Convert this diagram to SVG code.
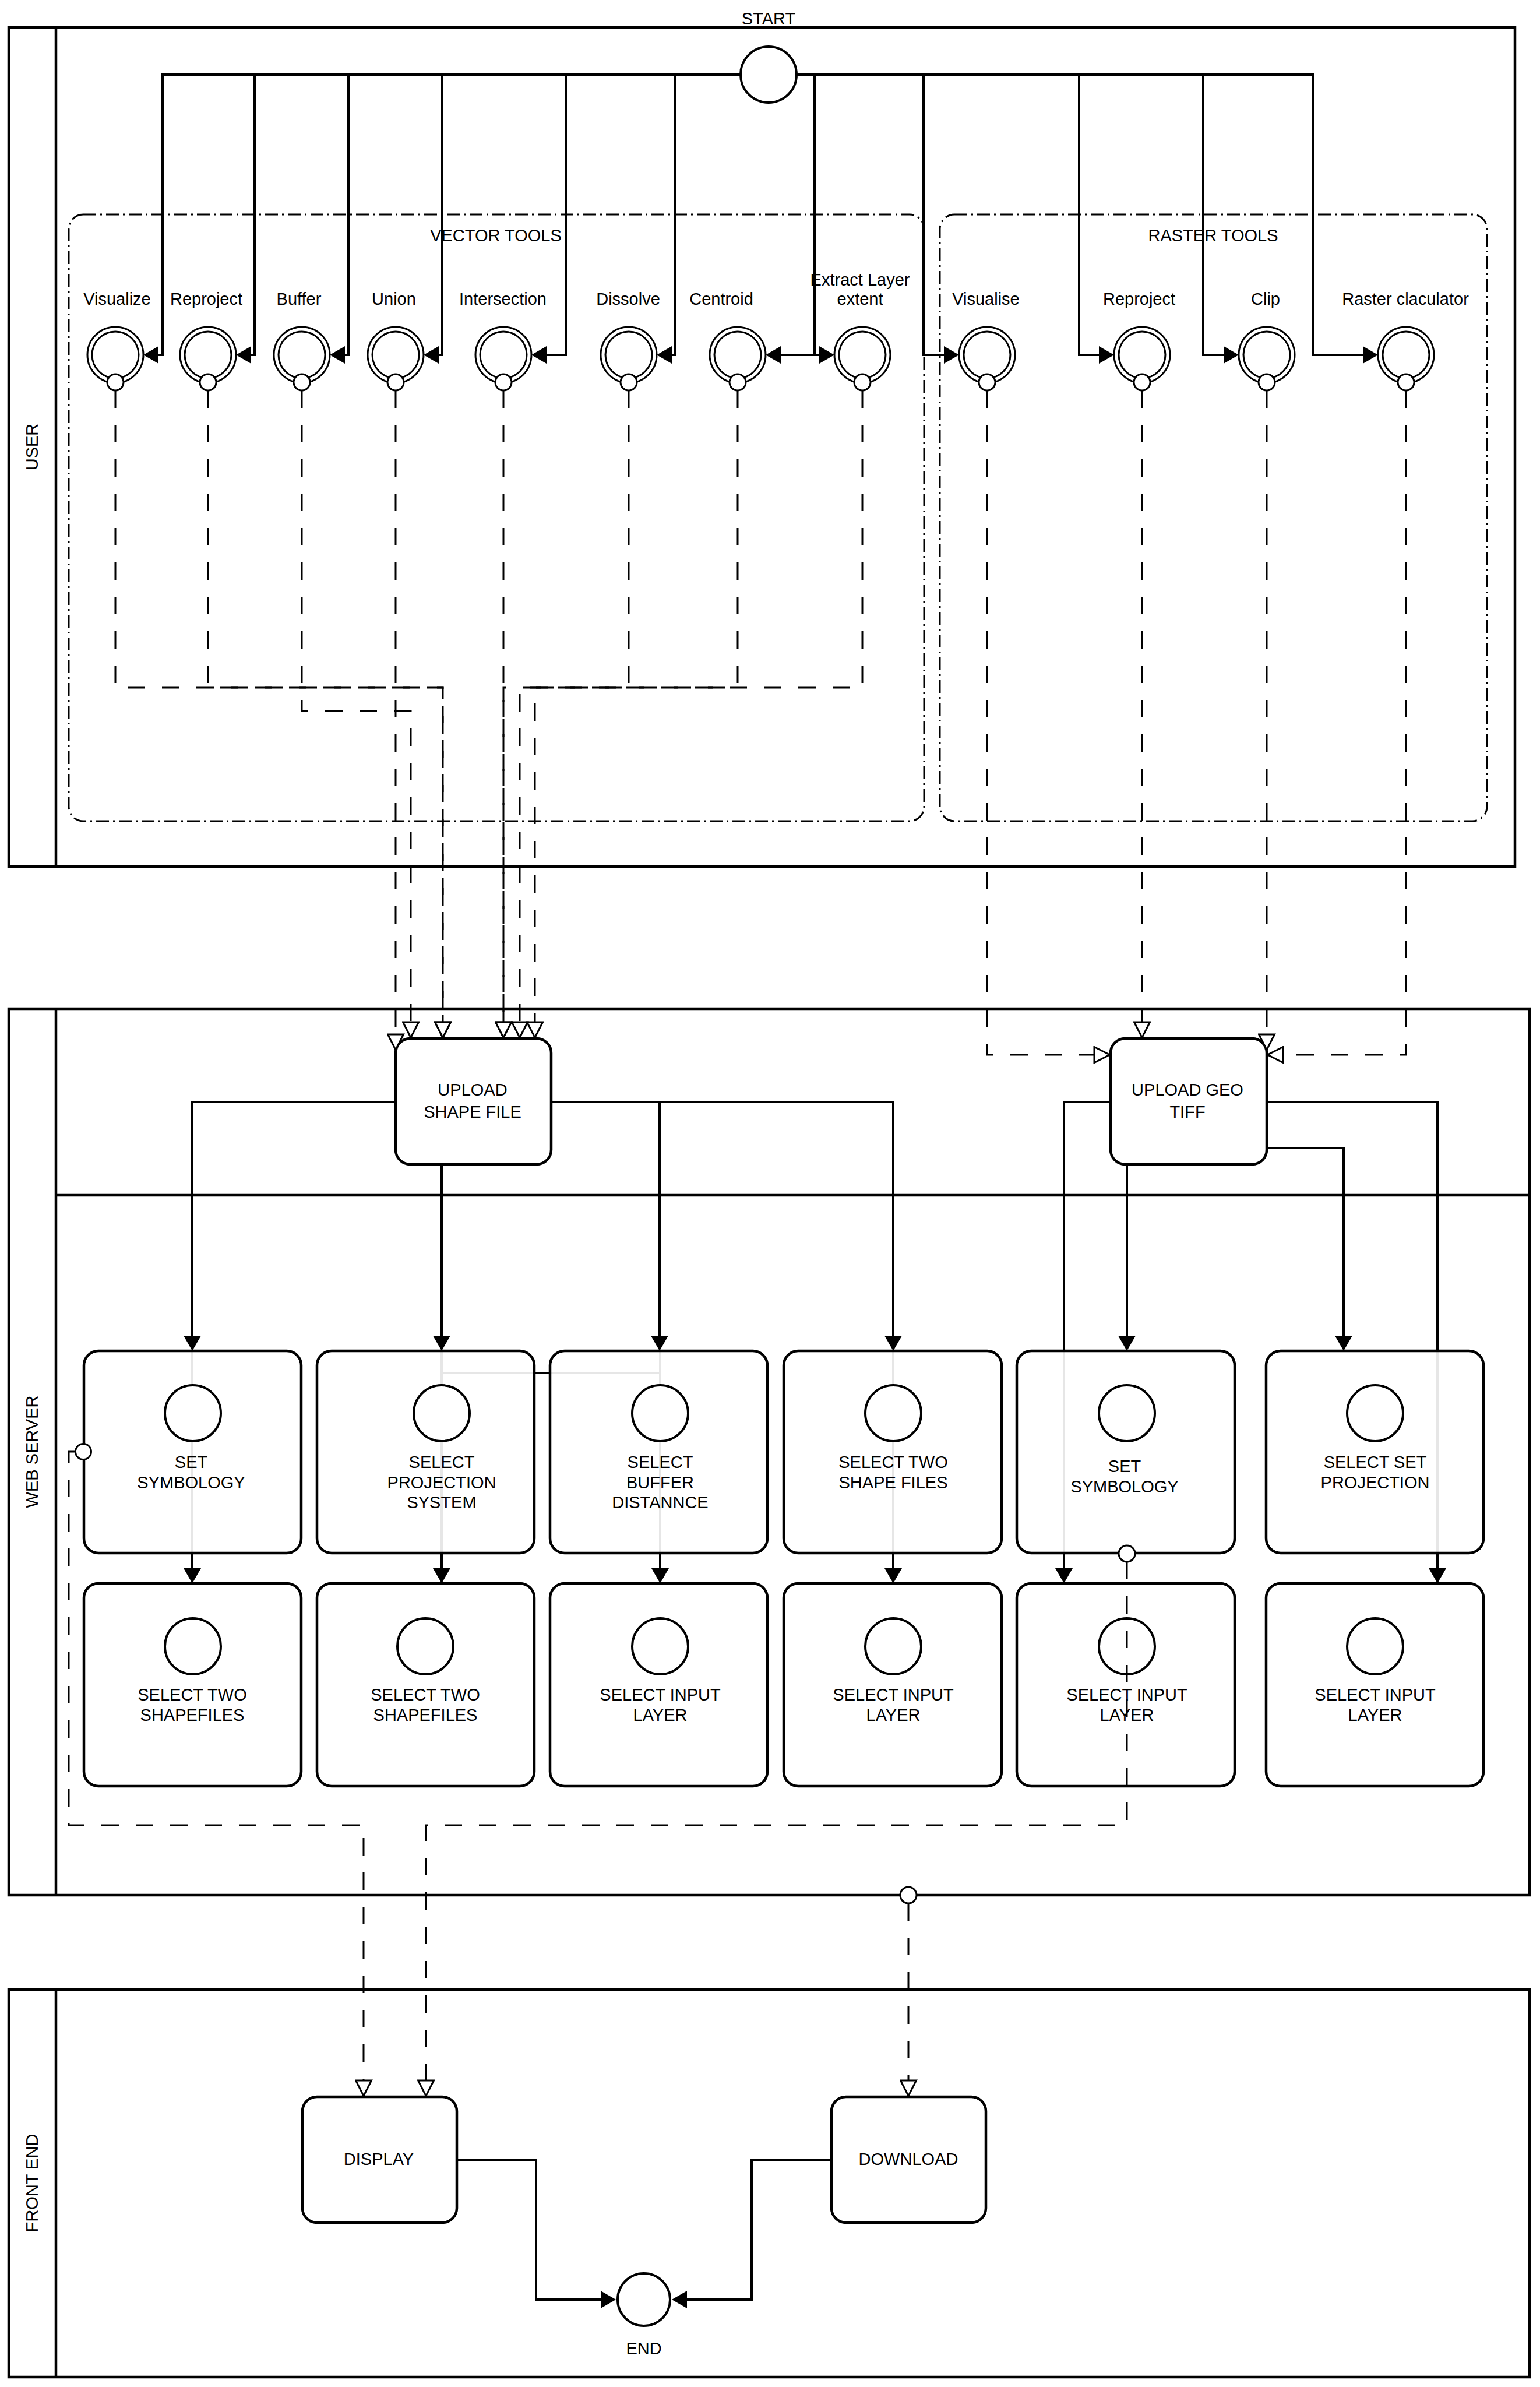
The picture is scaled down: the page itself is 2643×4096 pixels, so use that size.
<svg xmlns="http://www.w3.org/2000/svg" width="2643" height="4096" viewBox="0 0 2643 4096">
<style>
  .pool { fill: none; stroke: #000; stroke-width: 4.5; }
  .lbl { font-family: "Liberation Sans", Arial, sans-serif; font-size: 29px; fill: #000; text-anchor: middle; }
  .grp { fill: none; stroke: #000; stroke-width: 3; stroke-dasharray: 22 7 3 7; }
  .seq { fill: none; stroke: #000; stroke-width: 4; marker-end: url(#arrFill); }
  .line { fill: none; stroke: #000; stroke-width: 4; }
  .msg { fill: none; stroke: #000; stroke-width: 3; stroke-dasharray: 30 29; marker-end: url(#arrOpen); }
  .msgsrc { fill: #fff; stroke: #000; stroke-width: 3; }
  .task { fill: #fff; fill-opacity: 0.9; stroke: #000; stroke-width: 4.5; }
  .evt { fill: #fff; stroke: #000; stroke-width: 4; }
  .ring { fill: #fff; stroke: #000; stroke-width: 3; }
  .ringin { fill: none; stroke: #000; stroke-width: 3; }
</style>
<defs>
  <marker id="arrFill" markerUnits="userSpaceOnUse" markerWidth="26" markerHeight="30" viewBox="0 0 26 30" refX="0" refY="15" orient="auto">
    <path d="M0,0 L26,15 L0,30 z" fill="#000"/>
  </marker>
  <marker id="arrOpen" markerUnits="userSpaceOnUse" markerWidth="32" markerHeight="31" viewBox="-2 -2 32 31" refX="0" refY="13.5" orient="auto">
    <path d="M0,0 L26.5,13.5 L0,27 z" fill="#fff" stroke="#000" stroke-width="3" stroke-dasharray="none"/>
  </marker>
</defs>

<rect width="2643" height="4096" fill="#fff"/>

<!-- Pools and lanes -->
<g id="pool-user">
  <rect class="pool" x="15" y="47" width="2585" height="1440"/>
  <line class="pool" x1="96" y1="47" x2="96" y2="1487"/>
  <text class="lbl" transform="translate(55,767) rotate(-90)" dy="10">USER</text>
</g>
<g id="pool-webserver">
  <rect class="pool" x="15" y="1731" width="2610" height="1521"/>
  <line class="pool" x1="96" y1="1731" x2="96" y2="3252"/>
  <line class="pool" x1="96" y1="2051" x2="2625" y2="2051"/>
  <text class="lbl" transform="translate(55,2491) rotate(-90)" dy="10">WEB SERVER</text>
</g>
<g id="pool-frontend">
  <rect class="pool" x="15" y="3414" width="2610" height="665"/>
  <line class="pool" x1="96" y1="3414" x2="96" y2="4079"/>
  <text class="lbl" transform="translate(55,3746) rotate(-90)" dy="10">FRONT END</text>
</g>

<!-- Tool groups -->
<g id="group-vector">
  <rect class="grp" x="118" y="368" width="1468" height="1041" rx="25"/>
  <text class="lbl" x="851" y="414">VECTOR TOOLS</text>
</g>
<g id="group-raster">
  <rect class="grp" x="1613" y="368" width="939" height="1041" rx="25"/>
  <text class="lbl" x="2082" y="414">RASTER TOOLS</text>
</g>

<!-- Sequence flows from the start event -->
<g id="start-flows">
  <path class="seq" d="M1271,128 H279 V609 H272"/>
  <path class="seq" d="M1271,128 H437 V609 H431"/>
  <path class="seq" d="M1271,128 H598 V609 H592"/>
  <path class="seq" d="M1271,128 H759 V609 H753"/>
  <path class="seq" d="M1271,128 H971 V609 H938"/>
  <path class="seq" d="M1271,128 H1159 V609 H1153"/>
  <path class="seq" d="M1367,128 H1398 V609 H1340"/>
  <path class="seq" d="M1367,128 H1398 V609 H1406"/>
  <path class="seq" d="M1367,128 H1585 V609 H1620"/>
  <path class="seq" d="M1367,128 H1852 V609 H1886"/>
  <path class="seq" d="M1367,128 H2065 V609 H2100"/>
  <path class="seq" d="M1367,128 H2253 V609 H2339"/>
</g>

<!-- Start event -->
<g id="start">
  <circle class="evt" cx="1319" cy="128" r="48" stroke-width="4.5"/>
  <text class="lbl" x="1319" y="42">START</text>
</g>

<!-- Vector tool events -->
<g id="tool-visualize">
  <circle class="ring" cx="198" cy="609" r="48"/><circle class="ringin" cx="198" cy="609" r="40"/>
  <text class="lbl" x="201" y="523">Visualize</text>
</g>
<g id="tool-reproject">
  <circle class="ring" cx="357" cy="609" r="48"/><circle class="ringin" cx="357" cy="609" r="40"/>
  <text class="lbl" x="354" y="523">Reproject</text>
</g>
<g id="tool-buffer">
  <circle class="ring" cx="518" cy="609" r="48"/><circle class="ringin" cx="518" cy="609" r="40"/>
  <text class="lbl" x="513" y="523">Buffer</text>
</g>
<g id="tool-union">
  <circle class="ring" cx="679" cy="609" r="48"/><circle class="ringin" cx="679" cy="609" r="40"/>
  <text class="lbl" x="676" y="523">Union</text>
</g>
<g id="tool-intersection">
  <circle class="ring" cx="864" cy="609" r="48"/><circle class="ringin" cx="864" cy="609" r="40"/>
  <text class="lbl" x="863" y="523">Intersection</text>
</g>
<g id="tool-dissolve">
  <circle class="ring" cx="1079" cy="609" r="48"/><circle class="ringin" cx="1079" cy="609" r="40"/>
  <text class="lbl" x="1078" y="523">Dissolve</text>
</g>
<g id="tool-centroid">
  <circle class="ring" cx="1266" cy="609" r="48"/><circle class="ringin" cx="1266" cy="609" r="40"/>
  <text class="lbl" x="1238" y="523">Centroid</text>
</g>
<g id="tool-extract">
  <circle class="ring" cx="1480" cy="609" r="48"/><circle class="ringin" cx="1480" cy="609" r="40"/>
  <text class="lbl" x="1476" y="490">Extract Layer</text>
  <text class="lbl" x="1476" y="523">extent</text>
</g>

<!-- Raster tool events -->
<g id="tool-visualise">
  <circle class="ring" cx="1694" cy="609" r="48"/><circle class="ringin" cx="1694" cy="609" r="40"/>
  <text class="lbl" x="1692" y="523">Visualise</text>
</g>
<g id="tool-reproject-raster">
  <circle class="ring" cx="1960" cy="609" r="48"/><circle class="ringin" cx="1960" cy="609" r="40"/>
  <text class="lbl" x="1955" y="523">Reproject</text>
</g>
<g id="tool-clip">
  <circle class="ring" cx="2174" cy="609" r="48"/><circle class="ringin" cx="2174" cy="609" r="40"/>
  <text class="lbl" x="2172" y="523">Clip</text>
</g>
<g id="tool-raster-calculator">
  <circle class="ring" cx="2413" cy="609" r="48"/><circle class="ringin" cx="2413" cy="609" r="40"/>
  <text class="lbl" x="2412" y="523">Raster claculator</text>
</g>

<!-- Web server sequence flows (run behind the task boxes) -->
<g id="server-flows">
  <path class="seq" d="M679,1891 H330 V2292"/>
  <path class="seq" d="M330,2318 V2691"/>
  <path class="seq" d="M758,1998 V2292"/>
  <path class="seq" d="M758,2318 V2691"/>
  <path class="line" d="M758,2356 H1133 V2665"/>
  <path class="seq" d="M946,1891 H1132 V2292"/>
  <path class="seq" d="M1133,2318 V2691"/>
  <path class="seq" d="M946,1891 H1533 V2292"/>
  <path class="seq" d="M1533,2318 V2691"/>
  <path class="seq" d="M1906,1891 H1826 V2691"/>
  <path class="seq" d="M1934,1998 V2292"/>
  <path class="seq" d="M2174,1891 H2467 V2691"/>
  <path class="seq" d="M2174,1970 H2306 V2292"/>
  <path class="seq" d="M784,3706 H920 V3946 H1031"/>
  <path class="seq" d="M1427,3706 H1290 V3946 H1179"/>
</g>

<!-- Upload tasks -->
<g id="upload-shape-file">
  <rect class="task" x="679" y="1782" width="267" height="216" rx="25" fill-opacity="1"/>
  <text class="lbl" x="811" y="1880">UPLOAD</text>
  <text class="lbl" x="811" y="1918">SHAPE FILE</text>
</g>
<g id="upload-geo-tiff">
  <rect class="task" x="1906" y="1782" width="268" height="216" rx="25" fill-opacity="1"/>
  <text class="lbl" x="2038" y="1880">UPLOAD GEO</text>
  <text class="lbl" x="2038" y="1918">TIFF</text>
</g>

<!-- Parameter tasks, first row -->
<g id="set-symbology-vector">
  <rect class="task" x="144" y="2318" width="373" height="347" rx="25"/>
  <circle class="evt" cx="331" cy="2425" r="48"/>
  <text class="lbl" x="328" y="2519">SET</text>
  <text class="lbl" x="328" y="2554">SYMBOLOGY</text>
</g>
<g id="select-projection-system">
  <rect class="task" x="544" y="2318" width="373" height="347" rx="25"/>
  <circle class="evt" cx="758" cy="2425" r="48"/>
  <text class="lbl" x="758" y="2519">SELECT</text>
  <text class="lbl" x="758" y="2554">PROJECTION</text>
  <text class="lbl" x="758" y="2588">SYSTEM</text>
</g>
<g id="select-buffer-distance">
  <rect class="task" x="944" y="2318" width="373" height="347" rx="25"/>
  <circle class="evt" cx="1133" cy="2425" r="48"/>
  <text class="lbl" x="1133" y="2519">SELECT</text>
  <text class="lbl" x="1133" y="2554">BUFFER</text>
  <text class="lbl" x="1133" y="2588">DISTANNCE</text>
</g>
<g id="select-two-shape-files">
  <rect class="task" x="1345" y="2318" width="374" height="347" rx="25"/>
  <circle class="evt" cx="1533" cy="2425" r="48"/>
  <text class="lbl" x="1533" y="2519">SELECT TWO</text>
  <text class="lbl" x="1533" y="2554">SHAPE FILES</text>
</g>
<g id="set-symbology-raster">
  <rect class="task" x="1745" y="2318" width="374" height="347" rx="25"/>
  <circle class="evt" cx="1934" cy="2425" r="48"/>
  <text class="lbl" x="1930" y="2526">SET</text>
  <text class="lbl" x="1930" y="2561">SYMBOLOGY</text>
</g>
<g id="select-set-projection">
  <rect class="task" x="2173" y="2318" width="373" height="347" rx="25"/>
  <circle class="evt" cx="2360" cy="2425" r="48"/>
  <text class="lbl" x="2360" y="2519">SELECT SET</text>
  <text class="lbl" x="2360" y="2554">PROJECTION</text>
</g>

<!-- Parameter tasks, second row -->
<g id="select-two-shapefiles-a">
  <rect class="task" x="144" y="2717" width="373" height="348" rx="25"/>
  <circle class="evt" cx="331" cy="2825" r="48"/>
  <text class="lbl" x="330" y="2918">SELECT TWO</text>
  <text class="lbl" x="330" y="2953">SHAPEFILES</text>
</g>
<g id="select-two-shapefiles-b">
  <rect class="task" x="544" y="2717" width="373" height="348" rx="25"/>
  <circle class="evt" cx="730" cy="2825" r="48"/>
  <text class="lbl" x="730" y="2918">SELECT TWO</text>
  <text class="lbl" x="730" y="2953">SHAPEFILES</text>
</g>
<g id="select-input-layer-a">
  <rect class="task" x="944" y="2717" width="373" height="348" rx="25"/>
  <circle class="evt" cx="1133" cy="2825" r="48"/>
  <text class="lbl" x="1133" y="2918">SELECT INPUT</text>
  <text class="lbl" x="1133" y="2953">LAYER</text>
</g>
<g id="select-input-layer-b">
  <rect class="task" x="1345" y="2717" width="374" height="348" rx="25"/>
  <circle class="evt" cx="1533" cy="2825" r="48"/>
  <text class="lbl" x="1533" y="2918">SELECT INPUT</text>
  <text class="lbl" x="1533" y="2953">LAYER</text>
</g>
<g id="select-input-layer-c">
  <rect class="task" x="1745" y="2717" width="374" height="348" rx="25"/>
  <circle class="evt" cx="1934" cy="2825" r="48"/>
  <text class="lbl" x="1934" y="2918">SELECT INPUT</text>
  <text class="lbl" x="1934" y="2953">LAYER</text>
</g>
<g id="select-input-layer-d">
  <rect class="task" x="2173" y="2717" width="373" height="348" rx="25"/>
  <circle class="evt" cx="2360" cy="2825" r="48"/>
  <text class="lbl" x="2360" y="2918">SELECT INPUT</text>
  <text class="lbl" x="2360" y="2953">LAYER</text>
</g>

<!-- Front end tasks and end event -->
<g id="display">
  <rect class="task" x="519" y="3598" width="265" height="216" rx="25" fill-opacity="1"/>
  <text class="lbl" x="650" y="3715">DISPLAY</text>
</g>
<g id="download">
  <rect class="task" x="1427" y="3598" width="265" height="216" rx="25" fill-opacity="1"/>
  <text class="lbl" x="1559" y="3715">DOWNLOAD</text>
</g>
<g id="end">
  <circle class="evt" cx="1105" cy="3946" r="45" stroke-width="11"/>
  <text class="lbl" x="1105" y="4040">END</text>
</g>

<!-- Message flows -->
<g id="message-flows">
  <path class="msg" d="M198,670 V1180 H760 V1754"/>
  <path class="msg" d="M357,670 V1180 H760 V1754"/>
  <path class="msg" d="M518,670 V1220 H705 V1754"/>
  <path class="msg" d="M679,670 V1775"/>
  <path class="msg" d="M864,670 V1754"/>
  <path class="msg" d="M1079,670 V1180 H892 V1754"/>
  <path class="msg" d="M1266,670 V1180 H918 V1754"/>
  <path class="msg" d="M1480,670 V1180 H864 V1754"/>
  <path class="msg" d="M1694,670 V1810 H1878"/>
  <path class="msg" d="M1960,670 V1754"/>
  <path class="msg" d="M2174,670 V1775"/>
  <path class="msg" d="M2413,670 V1810 H2202"/>
  <path class="msg" d="M129,2491 H118 V3132 H624 V3570"/>
  <path class="msg" d="M1934,2680 V3132 H731 V3570"/>
  <path class="msg" d="M1559,3266 V3570"/>

  <circle class="msgsrc" cx="198" cy="656" r="14"/>
  <circle class="msgsrc" cx="357" cy="656" r="14"/>
  <circle class="msgsrc" cx="518" cy="656" r="14"/>
  <circle class="msgsrc" cx="679" cy="656" r="14"/>
  <circle class="msgsrc" cx="864" cy="656" r="14"/>
  <circle class="msgsrc" cx="1079" cy="656" r="14"/>
  <circle class="msgsrc" cx="1266" cy="656" r="14"/>
  <circle class="msgsrc" cx="1480" cy="656" r="14"/>
  <circle class="msgsrc" cx="1694" cy="656" r="14"/>
  <circle class="msgsrc" cx="1960" cy="656" r="14"/>
  <circle class="msgsrc" cx="2174" cy="656" r="14"/>
  <circle class="msgsrc" cx="2413" cy="656" r="14"/>
  <circle class="msgsrc" cx="143" cy="2491" r="13.5"/>
  <circle class="msgsrc" cx="1934" cy="2666" r="14"/>
  <circle class="msgsrc" cx="1559" cy="3252" r="14"/>
</g>
</svg>
